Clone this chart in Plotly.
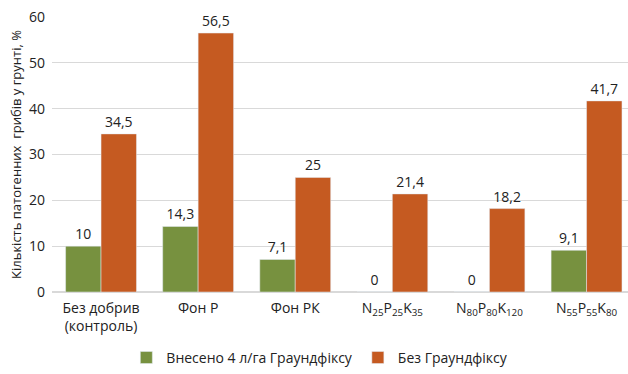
import plotly.graph_objects as go

categories = ["Без добрив<br>(контроль)", "Фон Р", "Фон РК",
              "N<sub>25</sub>P<sub>25</sub>K<sub>35</sub>",
              "N<sub>80</sub>P<sub>80</sub>K<sub>120</sub>",
              "N<sub>55</sub>P<sub>55</sub>K<sub>80</sub>"]
series_names = ["Внесено 4 л/га Граундфіксу", "Без Граундфіксу"]
with_fix = [10, 14.3, 7.1, 0, 0, 9.1]
without_fix = [34.5, 56.5, 25, 21.4, 18.2, 41.7]
colors = ["#77913f", "#c55a21"]

def fmt(v):
    return (f"{v:g}").replace(".", ",")

fig = go.Figure()
for name, vals, col in zip(series_names, [with_fix, without_fix], colors):
    fig.add_trace(go.Bar(
        x=categories, y=vals, name=name, marker_color=col,
        text=[fmt(v) for v in vals], textposition="outside",
        textfont=dict(size=14, color="#222"), cliponaxis=False,
    ))

fig.update_layout(
    width=628, height=374,
    margin=dict(l=52, r=0, t=17, b=82),
    barmode="group", bargap=0.27, bargroupgap=0.0,
    plot_bgcolor="white", paper_bgcolor="white",
    font=dict(family="Open Sans, sans-serif", size=14, color="#222"),
    yaxis=dict(range=[0, 60], dtick=10, gridcolor="#d9d9d9", gridwidth=1,
               zeroline=True, zerolinecolor="#d9d9d9", automargin=False,
               ticklabelstandoff=6,
               title=dict(text="Кількість патогенних  грибів у грунті, %", font=dict(size=13), standoff=4),
               tickfont=dict(size=14)),
    xaxis=dict(tickfont=dict(size=14), showline=False, range=[-0.505, 5.427],
               automargin=False, ticklabelstandoff=6),
    legend=dict(orientation="h", x=0.465, xanchor="center",
                yref="container", y=0.043, yanchor="middle",
                font=dict(size=14), itemwidth=30),
    showlegend=True,
)
fig.write_html("out.html", config={"displayModeBar": False},
               post_script="document.body.style.margin='0';document.body.style.overflow='hidden';")
